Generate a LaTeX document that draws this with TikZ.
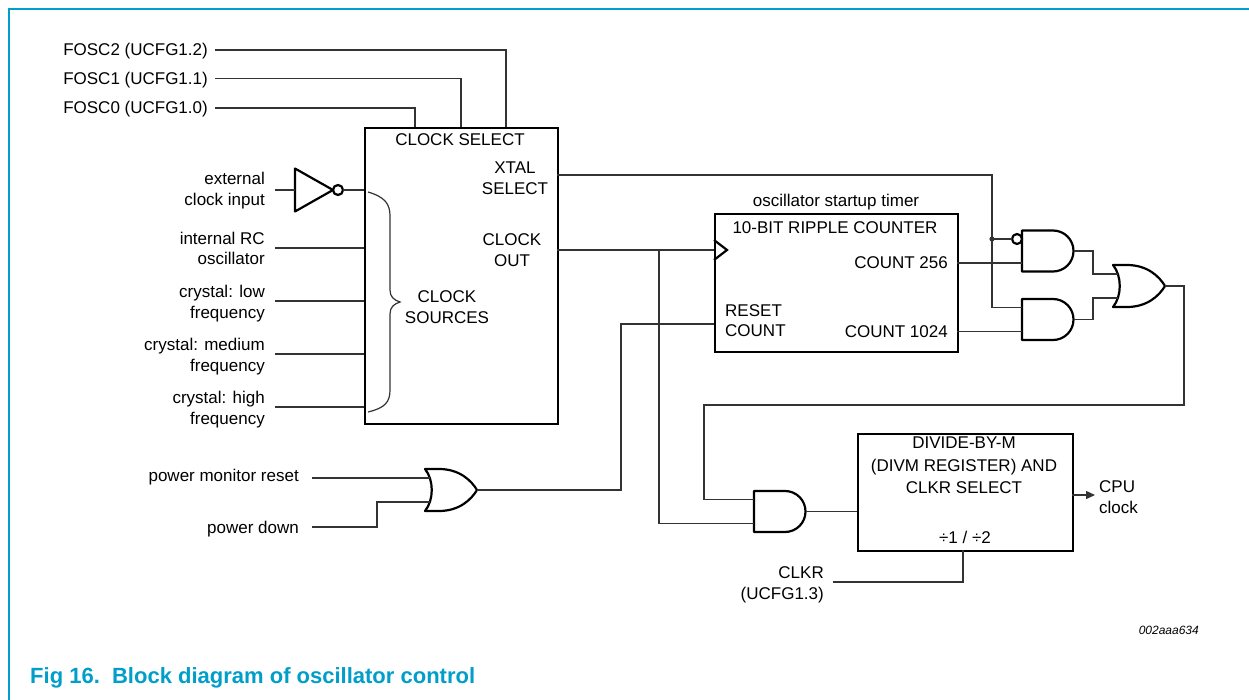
\documentclass[tikz,border=0pt]{standalone}
\usepackage{fontspec}
\setmainfont{Liberation Sans}
\usetikzlibrary{arrows.meta}
\definecolor{nxpblue}{RGB}{0,158,200}
\begin{document}
\begin{tikzpicture}[x=1pt,y=-1pt,
  lbl/.style={inner sep=0pt, font=\fontsize{17}{20.5}\selectfont},
  wire/.style={line width=1.4pt, draw=black!80},
  boxst/.style={draw=black, line width=2.4pt, inner sep=0pt},
  gate/.style={draw=black, line width=2.2pt, fill=white, line join=round},
  andg/.pic={
    \draw[gate] (0,-20.5) -- (31,-20.5) arc[start angle=90,end angle=-90,radius=20.5pt] -- (0,20.5) -- cycle;
    \coordinate (-in1) at (0,-12);
    \coordinate (-in2) at (0,12);
    \coordinate (-out) at (51.5,0);
  },
  org/.pic={
    \draw[gate] (0,-21) -- (14,-21) .. controls (34,-21) and (46,-10) .. (52,0)
       .. controls (46,10) and (34,21) .. (14,21) -- (0,21)
       .. controls (9,10) and (9,-10) .. (0,-21) -- cycle;
    \coordinate (-in1) at (5,-12);
    \coordinate (-in2) at (5,12);
    \coordinate (-out) at (52,0);
  },
  invg/.pic={
    \draw[gate] (0,-21.5) -- (38,0) -- (0,21.5) -- cycle;
    \draw[gate] (43,0) circle (5pt);
    \coordinate (-in) at (0,0);
    \coordinate (-out) at (48,0);
  },
]
\useasboundingbox (0,0) rectangle (1249,700);
% frame
\draw[nxpblue, line width=1.8pt] (9,700) -- (9,9) -- (1249,9);

% ---------- main blocks ----------
\node[boxst, anchor=north west, minimum width=193pt, minimum height=296pt] (cs) at (364,127) {};
\node[lbl, anchor=base] (cstitle) at (460,146) {CLOCK SELECT};
\node[lbl, align=center] (xtaltxt) at (515,178) {XTAL\\SELECT};
\node[lbl, align=center] (ckotxt) at (512,250) {CLOCK\\OUT};
\node[lbl, align=center] (srctxt) at (447,307) {CLOCK\\SOURCES};

\node[boxst, anchor=north west, minimum width=243pt, minimum height=138pt] (ctr) at (714,213) {};
\node[lbl, anchor=base] (osct) at (836,207) {oscillator startup timer};
\node[lbl, anchor=base] (ctrt) at (835,234) {10-BIT RIPPLE COUNTER};
\node[lbl, anchor=base east] (c256) at (948,269) {COUNT 256};
\node[lbl, anchor=base east] (c1024) at (948,337) {COUNT 1024};
\node[lbl, anchor=west, align=left] (rst) at (725,320.5) {RESET\\COUNT};

\node[boxst, anchor=north west, minimum width=215pt, minimum height=117pt] (divm) at (857,433) {};
\node[lbl, align=center, font=\fontsize{17}{22.5}\selectfont] (divt) at (964,465.5) {DIVIDE-BY-M\\(DIVM REGISTER) AND\\CLKR SELECT};
\node[lbl, anchor=base] (divs) at (965,543) {÷1 / ÷2};

% ---------- labels ----------
\node[lbl, anchor=base east] (f2) at (208,56) {FOSC2 (UCFG1.2)};
\node[lbl, anchor=base east] (f1) at (208,84.5) {FOSC1 (UCFG1.1)};
\node[lbl, anchor=base east] (f0) at (208,114) {FOSC0 (UCFG1.0)};
\node[lbl, anchor=east, align=right] (ext) at (265,190.7) {external\\clock input};
\node[lbl, anchor=east, align=right] (rc) at (265,248.5) {internal RC\\oscillator};
\node[lbl, anchor=east, align=right] (xlo) at (265,303.7) {crystal: low\\frequency};
\node[lbl, anchor=east, align=right] (xmed) at (265,356.7) {crystal: medium\\frequency};
\node[lbl, anchor=east, align=right] (xhi) at (265,409.7) {crystal: high\\frequency};
\node[lbl, anchor=base east] (pmr) at (299,481) {power monitor reset};
\node[lbl, anchor=base east] (pd) at (299,533) {power down};
\node[lbl, anchor=east, align=right] (clkr) at (824,585) {CLKR\\(UCFG1.3)};
\node[lbl, anchor=west, align=left] (cpu) at (1099,497) {CPU\\clock};
\node[inner sep=0pt, anchor=base east, font=\fontsize{12}{14}\selectfont\itshape] (id) at (1199,634) {002aaa634};
\node[inner sep=0pt, anchor=base west, text=nxpblue, font=\fontsize{22}{26}\selectfont\bfseries] (cap) at (30,683) {Fig 16.\ \ Block diagram of oscillator control};

% ---------- pin coordinates ----------
\coordinate (f2w) at (215,50);   \coordinate (cs2) at (506,127);
\coordinate (f1w) at (215,78.5); \coordinate (cs1) at (461,127);
\coordinate (f0w) at (215,108);  \coordinate (cs0) at (415,127);
\coordinate (extw) at (275,190); \coordinate (csext) at (364,190);
\coordinate (rcw) at (275,248);  \coordinate (csrc) at (364,248);
\coordinate (xlow) at (275,301); \coordinate (csxlo) at (364,301);
\coordinate (xmedw) at (275,354);\coordinate (csxmed) at (364,354);
\coordinate (xhiw) at (275,407); \coordinate (csxhi) at (364,407);
\coordinate (csxtal) at (557,175);
\coordinate (cscko) at (557,250);
\coordinate (ctrclk) at (714,250);
\coordinate (ctrrst) at (714,324);
\coordinate (ctr256) at (957,263);
\coordinate (ctr1024) at (957,331.5);
\coordinate (jx) at (992,239);
\coordinate (pmrw) at (312,478);
\coordinate (pdw) at (312,527);
\coordinate (divin) at (857,511.5);
\coordinate (divout) at (1072,495);
\coordinate (cpuw) at (1095,495);
\coordinate (divclkr) at (963,550);
\coordinate (clkrw) at (833,582);

% ---------- gates ----------
\pic (inv) at (295,190) {invg};
\pic (and1) at (1022,251) {andg};
\pic (and2) at (1022,319.5) {andg};
\pic (or2) at (1113,286) {org};
\pic (or1) at (425,490) {org};
\pic (and3) at (754,511.5) {andg};
\draw[gate] (1017,239) circle (5pt);
\coordinate (bubw) at (1012,239);

% ---------- wires ----------
\draw[wire] (f2w) -| (cs2);
\draw[wire] (f1w) -| (cs1);
\draw[wire] (f0w) -| (cs0);
\draw[wire] (extw) -- (inv-in);
\draw[wire] (inv-out) -- (csext);
\draw[wire] (rcw) -- (csrc);
\draw[wire] (xlow) -- (csxlo);
\draw[wire] (xmedw) -- (csxmed);
\draw[wire] (xhiw) -- (csxhi);
% xtal select
\draw[wire] (csxtal) -| (jx) |- (and2-in1);
\draw[wire] (jx) -- (bubw);
\fill[black!80] (jx) circle (2.6pt);
% clock out
\draw[wire] (cscko) -- (ctrclk);
\draw[wire] (cscko -| 659,0) |- (and3-in2);
\draw[line width=2.2pt, line join=miter] (714,240) -- (727,250) -- (714,260);
% counts
\draw[wire] (ctr256) -- (and1-in2);
\draw[wire] (ctr1024) -- (and2-in1 |- ctr1024);
% gates to or
\draw[wire] (and1-out) -- (1093,251) |- (or2-in1);
\draw[wire] (and2-out) -- (1093,319.5) |- (or2-in2);
% or output loop
\draw[wire] (or2-out) -- (1184,286) -- (1184,405) -- (704,405) |- (and3-in1);
\draw[wire] (and3-out) -- (divin);
% power gate
\draw[wire] (pmrw) -- (or1-in1);
\draw[wire] (pdw) -- (377,527) |- (or1-in2);
\draw[wire] (or1-out) -- (621,490) |- (ctrrst);
% divm
\draw[wire, -{Triangle[length=9pt,width=8pt]}] (divout) -- (cpuw);
\draw[wire] (divclkr) |- (clkrw);
% brace
\draw[wire, line width=1.2pt] (368,192) .. controls (385,197) and (390,204) .. (390,216) -- (390,290)
   .. controls (390,297) and (394,300) .. (400,302)
   .. controls (394,304) and (390,307) .. (390,314) -- (390,390)
   .. controls (390,402) and (385,408) .. (368,412);
\end{tikzpicture}
\end{document}
